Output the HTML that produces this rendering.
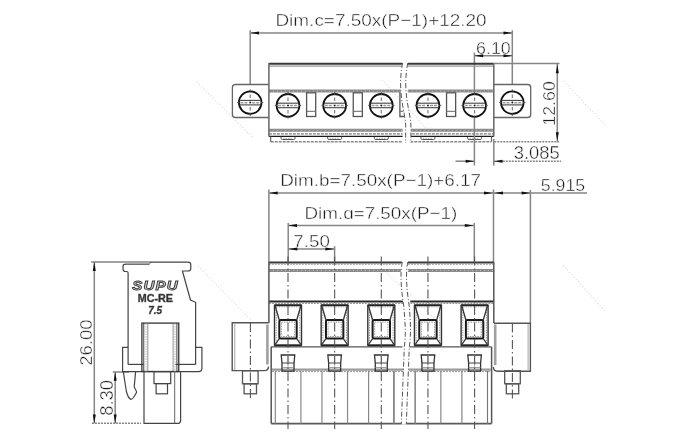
<!DOCTYPE html>
<html><head><meta charset="utf-8"><style>
html,body{margin:0;padding:0;background:#fff;}
svg{display:block;font-family:"Liberation Sans", sans-serif;will-change:transform;}
</style></head><body>
<svg width="680" height="440" viewBox="0 0 680 440">
<rect width="680" height="440" fill="#fff"/>
<line x1="197" y1="82" x2="253" y2="138" stroke="#dadada" stroke-width="1.3" stroke-dasharray="1 2.2"/>
<line x1="382" y1="80" x2="426" y2="128" stroke="#dadada" stroke-width="1.3" stroke-dasharray="1 2.2"/>
<line x1="563.6" y1="81" x2="605.5" y2="125.5" stroke="#dadada" stroke-width="1.3" stroke-dasharray="1 2.2"/>
<line x1="198" y1="266" x2="251" y2="320" stroke="#dadada" stroke-width="1.3" stroke-dasharray="1 2.2"/>
<line x1="387" y1="273" x2="434" y2="318" stroke="#dadada" stroke-width="1.3" stroke-dasharray="1 2.2"/>
<line x1="563" y1="265" x2="606" y2="312" stroke="#dadada" stroke-width="1.3" stroke-dasharray="1 2.2"/>
<text x="275.45" y="26.1" font-size="17.3" fill="#1a1a1a" textLength="211.19" lengthAdjust="spacingAndGlyphs" stroke="#fff" stroke-width="0.42">Dim.c=7.50x(P−1)+12.20</text>
<line x1="250.2" y1="32.9" x2="512.3" y2="32.9" stroke="#858585" stroke-width="1.5"/>
<polygon points="250.2,32.9 259.0,31.4 259.0,34.4" fill="#111"/>
<polygon points="512.3,32.9 503.5,31.4 503.5,34.4" fill="#111"/>
<line x1="250.2" y1="30.3" x2="250.2" y2="84.5" stroke="#858585" stroke-width="1.5"/>
<line x1="512.3" y1="30.3" x2="512.3" y2="84.5" stroke="#858585" stroke-width="1.5"/>
<text x="476.09" y="53.6" font-size="16.86" fill="#1a1a1a" textLength="34.71" lengthAdjust="spacingAndGlyphs" stroke="#fff" stroke-width="0.42">6.10</text>
<line x1="474.4" y1="55.8" x2="512.3" y2="55.8" stroke="#858585" stroke-width="1.5"/>
<polygon points="474.4,55.8 483.2,54.3 483.2,57.3" fill="#111"/>
<polygon points="512.3,55.8 503.5,54.3 503.5,57.3" fill="#111"/>
<line x1="474.4" y1="52.5" x2="474.4" y2="92" stroke="#858585" stroke-width="1.5"/>
<line x1="268.9" y1="63.8" x2="402.6" y2="63.8" stroke="#383838" stroke-width="2"/>
<line x1="268.9" y1="66.1" x2="402.6" y2="66.1" stroke="#9a9a9a" stroke-width="1.3"/>
<line x1="268.9" y1="91.1" x2="402.6" y2="91.1" stroke="#8a8a8a" stroke-width="3.0"/>
<line x1="268.9" y1="91.1" x2="402.6" y2="91.1" stroke="#c8c8c8" stroke-width="0.9" stroke-dasharray="1 3"/>
<line x1="268.9" y1="130.35" x2="402.6" y2="130.35" stroke="#8a8a8a" stroke-width="3.0"/>
<line x1="268.9" y1="130.35" x2="402.6" y2="130.35" stroke="#c8c8c8" stroke-width="0.9" stroke-dasharray="1 3"/>
<line x1="268.9" y1="133.9" x2="402.6" y2="133.9" stroke="#a0a0a0" stroke-width="1.8" stroke-dasharray="3 1"/>
<line x1="268.9" y1="136.4" x2="402.6" y2="136.4" stroke="#1a1a1a" stroke-width="1.4"/>
<line x1="407.8" y1="63.8" x2="493.8" y2="63.8" stroke="#383838" stroke-width="2"/>
<line x1="407.8" y1="66.1" x2="493.8" y2="66.1" stroke="#9a9a9a" stroke-width="1.3"/>
<line x1="407.8" y1="91.1" x2="493.8" y2="91.1" stroke="#8a8a8a" stroke-width="3.0"/>
<line x1="407.8" y1="91.1" x2="493.8" y2="91.1" stroke="#c8c8c8" stroke-width="0.9" stroke-dasharray="1 3"/>
<line x1="407.8" y1="130.35" x2="493.8" y2="130.35" stroke="#8a8a8a" stroke-width="3.0"/>
<line x1="407.8" y1="130.35" x2="493.8" y2="130.35" stroke="#c8c8c8" stroke-width="0.9" stroke-dasharray="1 3"/>
<line x1="407.8" y1="133.9" x2="493.8" y2="133.9" stroke="#a0a0a0" stroke-width="1.8" stroke-dasharray="3 1"/>
<line x1="407.8" y1="136.4" x2="493.8" y2="136.4" stroke="#1a1a1a" stroke-width="1.4"/>
<line x1="270.7" y1="141.7" x2="402.1" y2="141.7" stroke="#888" stroke-width="1.5" stroke-dasharray="3 1"/>
<line x1="410.3" y1="141.7" x2="491.5" y2="141.7" stroke="#888" stroke-width="1.5" stroke-dasharray="3 1"/>
<line x1="270.7" y1="136.4" x2="270.7" y2="141.7" stroke="#666" stroke-width="1.2"/>
<line x1="491.5" y1="136.4" x2="491.5" y2="141.7" stroke="#666" stroke-width="1.2"/>
<path d="M281.0,136.8 V138.2 Q281.0,139.5 282.5,139.5 H293.5 Q295.0,139.5 295.0,138.2 V136.8" stroke="#555" stroke-width="1" fill="none"/>
<line x1="283.0" y1="138.3" x2="293.0" y2="138.3" stroke="#9a9a9a" stroke-width="0.8" stroke-dasharray="1.5 1"/>
<path d="M327.65,136.8 V138.2 Q327.65,139.5 329.15,139.5 H340.15 Q341.65,139.5 341.65,138.2 V136.8" stroke="#555" stroke-width="1" fill="none"/>
<line x1="329.65" y1="138.3" x2="339.65" y2="138.3" stroke="#9a9a9a" stroke-width="0.8" stroke-dasharray="1.5 1"/>
<path d="M374.3,136.8 V138.2 Q374.3,139.5 375.8,139.5 H386.8 Q388.3,139.5 388.3,138.2 V136.8" stroke="#555" stroke-width="1" fill="none"/>
<line x1="376.3" y1="138.3" x2="386.3" y2="138.3" stroke="#9a9a9a" stroke-width="0.8" stroke-dasharray="1.5 1"/>
<path d="M420.95,136.8 V138.2 Q420.95,139.5 422.45,139.5 H433.45 Q434.95,139.5 434.95,138.2 V136.8" stroke="#555" stroke-width="1" fill="none"/>
<line x1="422.95" y1="138.3" x2="432.95" y2="138.3" stroke="#9a9a9a" stroke-width="0.8" stroke-dasharray="1.5 1"/>
<path d="M467.6,136.8 V138.2 Q467.6,139.5 469.1,139.5 H480.1 Q481.6,139.5 481.6,138.2 V136.8" stroke="#555" stroke-width="1" fill="none"/>
<line x1="469.6" y1="138.3" x2="479.6" y2="138.3" stroke="#9a9a9a" stroke-width="0.8" stroke-dasharray="1.5 1"/>
<line x1="268.9" y1="63" x2="268.9" y2="136.5" stroke="#666" stroke-width="1.5"/>
<line x1="493.8" y1="63" x2="493.8" y2="136.5" stroke="#666" stroke-width="1.5"/>
<path d="M268.9,84.5 H235.5 Q232.4,84.5 232.4,87.6 V114.4 Q232.4,117.5 235.5,117.5 H268.9" stroke="#666" stroke-width="1.3" fill="none"/>
<path d="M493.8,84.5 H527.6 Q530.7,84.5 530.7,87.6 V114.4 Q530.7,117.5 527.6,117.5 H493.8" stroke="#666" stroke-width="1.3" fill="none"/>
<circle cx="250.2" cy="102.6" r="11.3" stroke="#111" stroke-width="1.8" fill="none"/>
<line x1="239.5" y1="100.4" x2="260.9" y2="100.4" stroke="#444" stroke-width="1.1"/>
<line x1="239.5" y1="104.9" x2="260.9" y2="104.9" stroke="#444" stroke-width="1.1"/>
<line x1="240.4" y1="102.7" x2="248.2" y2="102.7" stroke="#9a9a9a" stroke-width="1.4" stroke-dasharray="3 1"/>
<line x1="252.2" y1="102.7" x2="260.0" y2="102.7" stroke="#9a9a9a" stroke-width="1.4" stroke-dasharray="3 1"/>
<line x1="250.2" y1="89.5" x2="250.2" y2="92.5" stroke="#444" stroke-width="1.1"/>
<line x1="250.2" y1="94.6" x2="250.2" y2="98.1" stroke="#777" stroke-width="1.1"/>
<line x1="250.2" y1="107.1" x2="250.2" y2="110.6" stroke="#777" stroke-width="1.1"/>
<line x1="250.2" y1="112.7" x2="250.2" y2="115.7" stroke="#444" stroke-width="1.1"/>
<line x1="237.1" y1="102.6" x2="239.4" y2="102.6" stroke="#555" stroke-width="1"/>
<line x1="261.0" y1="102.6" x2="263.3" y2="102.6" stroke="#555" stroke-width="1"/>
<circle cx="250.2" cy="102.6" r="1" fill="#222"/>
<circle cx="512.3" cy="102.6" r="11.3" stroke="#111" stroke-width="1.8" fill="none"/>
<line x1="501.6" y1="100.4" x2="523" y2="100.4" stroke="#444" stroke-width="1.1"/>
<line x1="501.6" y1="104.9" x2="523" y2="104.9" stroke="#444" stroke-width="1.1"/>
<line x1="502.5" y1="102.7" x2="510.3" y2="102.7" stroke="#9a9a9a" stroke-width="1.4" stroke-dasharray="3 1"/>
<line x1="514.3" y1="102.7" x2="522.1" y2="102.7" stroke="#9a9a9a" stroke-width="1.4" stroke-dasharray="3 1"/>
<line x1="512.3" y1="89.5" x2="512.3" y2="92.5" stroke="#444" stroke-width="1.1"/>
<line x1="512.3" y1="94.6" x2="512.3" y2="98.1" stroke="#777" stroke-width="1.1"/>
<line x1="512.3" y1="107.1" x2="512.3" y2="110.6" stroke="#777" stroke-width="1.1"/>
<line x1="512.3" y1="112.7" x2="512.3" y2="115.7" stroke="#444" stroke-width="1.1"/>
<line x1="499.2" y1="102.6" x2="501.5" y2="102.6" stroke="#555" stroke-width="1"/>
<line x1="523.1" y1="102.6" x2="525.4" y2="102.6" stroke="#555" stroke-width="1"/>
<circle cx="512.3" cy="102.6" r="1" fill="#222"/>
<circle cx="288.0" cy="105.4" r="11.4" stroke="#111" stroke-width="1.8" fill="none"/>
<line x1="277.2" y1="103.2" x2="298.8" y2="103.2" stroke="#444" stroke-width="1.1"/>
<line x1="277.2" y1="107.7" x2="298.8" y2="107.7" stroke="#444" stroke-width="1.1"/>
<line x1="278.1" y1="105.5" x2="286.0" y2="105.5" stroke="#9a9a9a" stroke-width="1.4" stroke-dasharray="3 1"/>
<line x1="290.0" y1="105.5" x2="297.9" y2="105.5" stroke="#9a9a9a" stroke-width="1.4" stroke-dasharray="3 1"/>
<line x1="288.0" y1="92.2" x2="288.0" y2="95.2" stroke="#444" stroke-width="1.1"/>
<line x1="288.0" y1="97.4" x2="288.0" y2="100.9" stroke="#777" stroke-width="1.1"/>
<line x1="288.0" y1="109.9" x2="288.0" y2="113.4" stroke="#777" stroke-width="1.1"/>
<line x1="288.0" y1="115.6" x2="288.0" y2="118.6" stroke="#444" stroke-width="1.1"/>
<line x1="274.8" y1="105.4" x2="277.1" y2="105.4" stroke="#555" stroke-width="1"/>
<line x1="298.9" y1="105.4" x2="301.2" y2="105.4" stroke="#555" stroke-width="1"/>
<circle cx="288.0" cy="105.4" r="1" fill="#222"/>
<circle cx="334.65" cy="105.4" r="11.4" stroke="#111" stroke-width="1.8" fill="none"/>
<line x1="323.85" y1="103.2" x2="345.45" y2="103.2" stroke="#444" stroke-width="1.1"/>
<line x1="323.85" y1="107.7" x2="345.45" y2="107.7" stroke="#444" stroke-width="1.1"/>
<line x1="324.75" y1="105.5" x2="332.65" y2="105.5" stroke="#9a9a9a" stroke-width="1.4" stroke-dasharray="3 1"/>
<line x1="336.65" y1="105.5" x2="344.55" y2="105.5" stroke="#9a9a9a" stroke-width="1.4" stroke-dasharray="3 1"/>
<line x1="334.65" y1="92.2" x2="334.65" y2="95.2" stroke="#444" stroke-width="1.1"/>
<line x1="334.65" y1="97.4" x2="334.65" y2="100.9" stroke="#777" stroke-width="1.1"/>
<line x1="334.65" y1="109.9" x2="334.65" y2="113.4" stroke="#777" stroke-width="1.1"/>
<line x1="334.65" y1="115.6" x2="334.65" y2="118.6" stroke="#444" stroke-width="1.1"/>
<line x1="321.45" y1="105.4" x2="323.75" y2="105.4" stroke="#555" stroke-width="1"/>
<line x1="345.55" y1="105.4" x2="347.85" y2="105.4" stroke="#555" stroke-width="1"/>
<circle cx="334.65" cy="105.4" r="1" fill="#222"/>
<circle cx="381.3" cy="105.4" r="11.4" stroke="#111" stroke-width="1.8" fill="none"/>
<line x1="370.5" y1="103.2" x2="392.1" y2="103.2" stroke="#444" stroke-width="1.1"/>
<line x1="370.5" y1="107.7" x2="392.1" y2="107.7" stroke="#444" stroke-width="1.1"/>
<line x1="371.4" y1="105.5" x2="379.3" y2="105.5" stroke="#9a9a9a" stroke-width="1.4" stroke-dasharray="3 1"/>
<line x1="383.3" y1="105.5" x2="391.2" y2="105.5" stroke="#9a9a9a" stroke-width="1.4" stroke-dasharray="3 1"/>
<line x1="381.3" y1="92.2" x2="381.3" y2="95.2" stroke="#444" stroke-width="1.1"/>
<line x1="381.3" y1="97.4" x2="381.3" y2="100.9" stroke="#777" stroke-width="1.1"/>
<line x1="381.3" y1="109.9" x2="381.3" y2="113.4" stroke="#777" stroke-width="1.1"/>
<line x1="381.3" y1="115.6" x2="381.3" y2="118.6" stroke="#444" stroke-width="1.1"/>
<line x1="368.1" y1="105.4" x2="370.4" y2="105.4" stroke="#555" stroke-width="1"/>
<line x1="392.2" y1="105.4" x2="394.5" y2="105.4" stroke="#555" stroke-width="1"/>
<circle cx="381.3" cy="105.4" r="1" fill="#222"/>
<circle cx="427.95" cy="105.4" r="11.4" stroke="#111" stroke-width="1.8" fill="none"/>
<line x1="417.15" y1="103.2" x2="438.75" y2="103.2" stroke="#444" stroke-width="1.1"/>
<line x1="417.15" y1="107.7" x2="438.75" y2="107.7" stroke="#444" stroke-width="1.1"/>
<line x1="418.05" y1="105.5" x2="425.95" y2="105.5" stroke="#9a9a9a" stroke-width="1.4" stroke-dasharray="3 1"/>
<line x1="429.95" y1="105.5" x2="437.85" y2="105.5" stroke="#9a9a9a" stroke-width="1.4" stroke-dasharray="3 1"/>
<line x1="427.95" y1="92.2" x2="427.95" y2="95.2" stroke="#444" stroke-width="1.1"/>
<line x1="427.95" y1="97.4" x2="427.95" y2="100.9" stroke="#777" stroke-width="1.1"/>
<line x1="427.95" y1="109.9" x2="427.95" y2="113.4" stroke="#777" stroke-width="1.1"/>
<line x1="427.95" y1="115.6" x2="427.95" y2="118.6" stroke="#444" stroke-width="1.1"/>
<line x1="414.75" y1="105.4" x2="417.05" y2="105.4" stroke="#555" stroke-width="1"/>
<line x1="438.85" y1="105.4" x2="441.15" y2="105.4" stroke="#555" stroke-width="1"/>
<circle cx="427.95" cy="105.4" r="1" fill="#222"/>
<circle cx="474.6" cy="105.4" r="11.4" stroke="#111" stroke-width="1.8" fill="none"/>
<line x1="463.8" y1="103.2" x2="485.4" y2="103.2" stroke="#444" stroke-width="1.1"/>
<line x1="463.8" y1="107.7" x2="485.4" y2="107.7" stroke="#444" stroke-width="1.1"/>
<line x1="464.7" y1="105.5" x2="472.6" y2="105.5" stroke="#9a9a9a" stroke-width="1.4" stroke-dasharray="3 1"/>
<line x1="476.6" y1="105.5" x2="484.5" y2="105.5" stroke="#9a9a9a" stroke-width="1.4" stroke-dasharray="3 1"/>
<line x1="474.6" y1="92.2" x2="474.6" y2="95.2" stroke="#444" stroke-width="1.1"/>
<line x1="474.6" y1="97.4" x2="474.6" y2="100.9" stroke="#777" stroke-width="1.1"/>
<line x1="474.6" y1="109.9" x2="474.6" y2="113.4" stroke="#777" stroke-width="1.1"/>
<line x1="474.6" y1="115.6" x2="474.6" y2="118.6" stroke="#444" stroke-width="1.1"/>
<line x1="461.4" y1="105.4" x2="463.7" y2="105.4" stroke="#555" stroke-width="1"/>
<line x1="485.5" y1="105.4" x2="487.8" y2="105.4" stroke="#555" stroke-width="1"/>
<circle cx="474.6" cy="105.4" r="1" fill="#222"/>
<rect x="306.6" y="92.8" width="9.1" height="23.7" stroke="#555" stroke-width="1.3" fill="none"/>
<line x1="306.6" y1="111.3" x2="315.7" y2="111.3" stroke="#666" stroke-width="1"/>
<rect x="353.25" y="92.8" width="9.1" height="23.7" stroke="#555" stroke-width="1.3" fill="none"/>
<line x1="353.25" y1="111.3" x2="362.35" y2="111.3" stroke="#666" stroke-width="1"/>
<rect x="446.55" y="92.8" width="9.1" height="23.7" stroke="#555" stroke-width="1.3" fill="none"/>
<line x1="446.55" y1="111.3" x2="455.65" y2="111.3" stroke="#666" stroke-width="1"/>
<path d="M405,92.8 H399.9 V116.5 H405" stroke="#555" stroke-width="1.3" fill="none"/>
<line x1="399.9" y1="111.3" x2="405" y2="111.3" stroke="#666" stroke-width="1"/>
<path d="M402.3,62 C400,75 400,86 401,95 C402,106 405,116 405.5,125 V143.5 L411,143.5 V125 C410.5,116 407.2,106 406.2,95 C405.2,86 405.2,75 408,62 Z" fill="#fff"/>
<path d="M402.6,63 C400.2,75 400.2,86 401.2,95 C402.2,106 405.2,116 405.7,125 V143" stroke="#555" stroke-width="1" fill="none" stroke-dasharray="5 2 1 2"/>
<path d="M407.8,63 C405.4,75 405.4,86 406.4,95 C407.4,106 410.4,116 410.9,125 V143" stroke="#555" stroke-width="1" fill="none" stroke-dasharray="5 2 1 2"/>
<line x1="493.8" y1="63.6" x2="559.5" y2="63.6" stroke="#858585" stroke-width="1.5"/>
<line x1="494.3" y1="141.7" x2="559" y2="141.7" stroke="#858585" stroke-width="1.5" stroke-dasharray="2 1"/>
<line x1="557.3" y1="63.6" x2="557.3" y2="141.7" stroke="#858585" stroke-width="1.5"/>
<polygon points="557.3,64.5 555.8,73.3 558.8,73.3" fill="#111"/>
<polygon points="557.3,141 555.8,132.2 558.8,132.2" fill="#111"/>
<text x="553.4" y="124.4" font-size="16.93" fill="#1a1a1a" textLength="44.56" lengthAdjust="spacingAndGlyphs" transform="rotate(-90 554.75 124.4)" stroke="#fff" stroke-width="0.42">12.60</text>
<line x1="474.4" y1="118" x2="474.4" y2="165.5" stroke="#858585" stroke-width="1.5"/>
<line x1="493.8" y1="139" x2="493.8" y2="165.5" stroke="#858585" stroke-width="1.5"/>
<line x1="455.5" y1="161.2" x2="474.4" y2="161.2" stroke="#858585" stroke-width="1.5"/>
<polygon points="474.4,161.2 465.6,159.7 465.6,162.7" fill="#111"/>
<line x1="493.8" y1="161.2" x2="561" y2="161.2" stroke="#858585" stroke-width="1.5" stroke-dasharray="2 1"/>
<polygon points="493.8,161.2 502.6,159.7 502.6,162.7" fill="#111"/>
<text x="513.8" y="159.2" font-size="17.59" fill="#1a1a1a" textLength="45.98" lengthAdjust="spacingAndGlyphs" stroke="#fff" stroke-width="0.42">3.085</text>
<text x="280.25" y="186.4" font-size="17.15" fill="#1a1a1a" textLength="200.69" lengthAdjust="spacingAndGlyphs" stroke="#fff" stroke-width="0.42">Dim.b=7.50x(P−1)+6.17</text>
<line x1="268.9" y1="192.9" x2="493.5" y2="192.9" stroke="#858585" stroke-width="1.5"/>
<polygon points="268.9,192.9 277.7,191.4 277.7,194.4" fill="#111"/>
<polygon points="492.8,192.9 484.0,191.4 484.0,194.4" fill="#111"/>
<line x1="268.9" y1="189.5" x2="268.9" y2="262" stroke="#858585" stroke-width="1.5"/>
<line x1="493.5" y1="189.5" x2="493.5" y2="262" stroke="#858585" stroke-width="1.5"/>
<line x1="493.5" y1="192.9" x2="587" y2="192.9" stroke="#858585" stroke-width="1.5"/>
<polygon points="494.2,192.9 503.0,191.4 503.0,194.4" fill="#111"/>
<polygon points="530.4,192.9 521.6,191.4 521.6,194.4" fill="#111"/>
<line x1="530.4" y1="190" x2="530.4" y2="323" stroke="#858585" stroke-width="1.5"/>
<text x="540.89" y="191.0" font-size="17.3" fill="#1a1a1a" textLength="44.26" lengthAdjust="spacingAndGlyphs" stroke="#fff" stroke-width="0.42">5.915</text>
<text x="304.45" y="218.5" font-size="17.01" fill="#1a1a1a" textLength="152.91" lengthAdjust="spacingAndGlyphs" stroke="#fff" stroke-width="0.42">Dim.ɑ=7.50x(P−1)</text>
<line x1="288.2" y1="225.4" x2="474.3" y2="225.4" stroke="#858585" stroke-width="1.5"/>
<polygon points="288.2,225.4 297.0,223.9 297.0,226.9" fill="#111"/>
<polygon points="473.6,225.4 464.8,223.9 464.8,226.9" fill="#111"/>
<line x1="288.2" y1="223" x2="288.2" y2="262" stroke="#858585" stroke-width="1.5"/>
<line x1="474.3" y1="223" x2="474.3" y2="262" stroke="#858585" stroke-width="1.5"/>
<text x="293.34" y="246.6" font-size="16.86" fill="#1a1a1a" textLength="36.49" lengthAdjust="spacingAndGlyphs" stroke="#fff" stroke-width="0.42">7.50</text>
<line x1="288.2" y1="249" x2="334.6" y2="249" stroke="#858585" stroke-width="1.5"/>
<polygon points="288.6,249 297.4,247.5 297.4,250.5" fill="#111"/>
<polygon points="334.2,249 325.4,247.5 325.4,250.5" fill="#111"/>
<line x1="334.6" y1="246.2" x2="334.6" y2="262" stroke="#858585" stroke-width="1.5"/>
<line x1="268.9" y1="262.4" x2="402.6" y2="262.4" stroke="#3a3a3a" stroke-width="2"/>
<line x1="268.9" y1="264.2" x2="402.6" y2="264.2" stroke="#9a9a9a" stroke-width="1.1" stroke-dasharray="2 1"/>
<line x1="268.9" y1="270.5" x2="402.6" y2="270.5" stroke="#8a8a8a" stroke-width="3.0"/>
<line x1="268.9" y1="270.5" x2="402.6" y2="270.5" stroke="#c8c8c8" stroke-width="0.9" stroke-dasharray="1 3"/>
<line x1="407.9" y1="262.4" x2="493.8" y2="262.4" stroke="#3a3a3a" stroke-width="2"/>
<line x1="407.9" y1="264.2" x2="493.8" y2="264.2" stroke="#9a9a9a" stroke-width="1.1" stroke-dasharray="2 1"/>
<line x1="407.9" y1="270.5" x2="493.8" y2="270.5" stroke="#8a8a8a" stroke-width="3.0"/>
<line x1="407.9" y1="270.5" x2="493.8" y2="270.5" stroke="#c8c8c8" stroke-width="0.9" stroke-dasharray="1 3"/>
<line x1="268.9" y1="301.4" x2="404" y2="301.4" stroke="#2a2a2a" stroke-width="2"/>
<line x1="268.9" y1="303.4" x2="404" y2="303.4" stroke="#9a9a9a" stroke-width="1.1" stroke-dasharray="2 1"/>
<line x1="410.3" y1="301.4" x2="493.8" y2="301.4" stroke="#2a2a2a" stroke-width="2"/>
<line x1="410.3" y1="303.4" x2="493.8" y2="303.4" stroke="#9a9a9a" stroke-width="1.1" stroke-dasharray="2 1"/>
<line x1="268.9" y1="262" x2="268.9" y2="323" stroke="#555" stroke-width="1.5"/>
<line x1="493.8" y1="262" x2="493.8" y2="323" stroke="#555" stroke-width="1.5"/>
<line x1="274.2" y1="305.2" x2="301.8" y2="305.2" stroke="#222" stroke-width="2"/>
<line x1="274.2" y1="345.4" x2="301.8" y2="345.4" stroke="#222" stroke-width="2.2"/>
<line x1="274.5" y1="305" x2="274.5" y2="345.5" stroke="#333" stroke-width="1.4"/>
<line x1="301.5" y1="305" x2="301.5" y2="345.5" stroke="#333" stroke-width="1.4"/>
<line x1="276.2" y1="307" x2="276.2" y2="344" stroke="#9a9a9a" stroke-width="1" stroke-dasharray="1.5 1"/>
<line x1="299.8" y1="307" x2="299.8" y2="344" stroke="#9a9a9a" stroke-width="1" stroke-dasharray="1.5 1"/>
<line x1="276.2" y1="306.8" x2="299.8" y2="306.8" stroke="#9a9a9a" stroke-width="1" stroke-dasharray="1.5 1"/>
<rect x="279.3" y="320" width="17.4" height="18.6" stroke="#1a1a1a" stroke-width="2" fill="none" rx="1.5"/>
<rect x="281.4" y="322.1" width="13.2" height="14.4" stroke="#888" stroke-width="0.9" fill="none" stroke-dasharray="1.5 1"/>
<line x1="275.2" y1="306" x2="279.3" y2="320" stroke="#333" stroke-width="1.3"/>
<line x1="300.8" y1="306" x2="296.7" y2="320" stroke="#333" stroke-width="1.3"/>
<line x1="279.3" y1="338.6" x2="275.2" y2="344.5" stroke="#333" stroke-width="1.3"/>
<line x1="296.7" y1="338.6" x2="300.8" y2="344.5" stroke="#333" stroke-width="1.3"/>
<line x1="320.85" y1="305.2" x2="348.45" y2="305.2" stroke="#222" stroke-width="2"/>
<line x1="320.85" y1="345.4" x2="348.45" y2="345.4" stroke="#222" stroke-width="2.2"/>
<line x1="321.15" y1="305" x2="321.15" y2="345.5" stroke="#333" stroke-width="1.4"/>
<line x1="348.15" y1="305" x2="348.15" y2="345.5" stroke="#333" stroke-width="1.4"/>
<line x1="322.85" y1="307" x2="322.85" y2="344" stroke="#9a9a9a" stroke-width="1" stroke-dasharray="1.5 1"/>
<line x1="346.45" y1="307" x2="346.45" y2="344" stroke="#9a9a9a" stroke-width="1" stroke-dasharray="1.5 1"/>
<line x1="322.85" y1="306.8" x2="346.45" y2="306.8" stroke="#9a9a9a" stroke-width="1" stroke-dasharray="1.5 1"/>
<rect x="325.95" y="320" width="17.4" height="18.6" stroke="#1a1a1a" stroke-width="2" fill="none" rx="1.5"/>
<rect x="328.05" y="322.1" width="13.2" height="14.4" stroke="#888" stroke-width="0.9" fill="none" stroke-dasharray="1.5 1"/>
<line x1="321.85" y1="306" x2="325.95" y2="320" stroke="#333" stroke-width="1.3"/>
<line x1="347.45" y1="306" x2="343.35" y2="320" stroke="#333" stroke-width="1.3"/>
<line x1="325.95" y1="338.6" x2="321.85" y2="344.5" stroke="#333" stroke-width="1.3"/>
<line x1="343.35" y1="338.6" x2="347.45" y2="344.5" stroke="#333" stroke-width="1.3"/>
<line x1="367.5" y1="305.2" x2="395.1" y2="305.2" stroke="#222" stroke-width="2"/>
<line x1="367.5" y1="345.4" x2="395.1" y2="345.4" stroke="#222" stroke-width="2.2"/>
<line x1="367.8" y1="305" x2="367.8" y2="345.5" stroke="#333" stroke-width="1.4"/>
<line x1="394.8" y1="305" x2="394.8" y2="345.5" stroke="#333" stroke-width="1.4"/>
<line x1="369.5" y1="307" x2="369.5" y2="344" stroke="#9a9a9a" stroke-width="1" stroke-dasharray="1.5 1"/>
<line x1="393.1" y1="307" x2="393.1" y2="344" stroke="#9a9a9a" stroke-width="1" stroke-dasharray="1.5 1"/>
<line x1="369.5" y1="306.8" x2="393.1" y2="306.8" stroke="#9a9a9a" stroke-width="1" stroke-dasharray="1.5 1"/>
<rect x="372.6" y="320" width="17.4" height="18.6" stroke="#1a1a1a" stroke-width="2" fill="none" rx="1.5"/>
<rect x="374.7" y="322.1" width="13.2" height="14.4" stroke="#888" stroke-width="0.9" fill="none" stroke-dasharray="1.5 1"/>
<line x1="368.5" y1="306" x2="372.6" y2="320" stroke="#333" stroke-width="1.3"/>
<line x1="394.1" y1="306" x2="390.0" y2="320" stroke="#333" stroke-width="1.3"/>
<line x1="372.6" y1="338.6" x2="368.5" y2="344.5" stroke="#333" stroke-width="1.3"/>
<line x1="390.0" y1="338.6" x2="394.1" y2="344.5" stroke="#333" stroke-width="1.3"/>
<line x1="414.15" y1="305.2" x2="441.75" y2="305.2" stroke="#222" stroke-width="2"/>
<line x1="414.15" y1="345.4" x2="441.75" y2="345.4" stroke="#222" stroke-width="2.2"/>
<line x1="414.45" y1="305" x2="414.45" y2="345.5" stroke="#333" stroke-width="1.4"/>
<line x1="441.45" y1="305" x2="441.45" y2="345.5" stroke="#333" stroke-width="1.4"/>
<line x1="416.15" y1="307" x2="416.15" y2="344" stroke="#9a9a9a" stroke-width="1" stroke-dasharray="1.5 1"/>
<line x1="439.75" y1="307" x2="439.75" y2="344" stroke="#9a9a9a" stroke-width="1" stroke-dasharray="1.5 1"/>
<line x1="416.15" y1="306.8" x2="439.75" y2="306.8" stroke="#9a9a9a" stroke-width="1" stroke-dasharray="1.5 1"/>
<rect x="419.25" y="320" width="17.4" height="18.6" stroke="#1a1a1a" stroke-width="2" fill="none" rx="1.5"/>
<rect x="421.35" y="322.1" width="13.2" height="14.4" stroke="#888" stroke-width="0.9" fill="none" stroke-dasharray="1.5 1"/>
<line x1="415.15" y1="306" x2="419.25" y2="320" stroke="#333" stroke-width="1.3"/>
<line x1="440.75" y1="306" x2="436.65" y2="320" stroke="#333" stroke-width="1.3"/>
<line x1="419.25" y1="338.6" x2="415.15" y2="344.5" stroke="#333" stroke-width="1.3"/>
<line x1="436.65" y1="338.6" x2="440.75" y2="344.5" stroke="#333" stroke-width="1.3"/>
<line x1="460.8" y1="305.2" x2="488.4" y2="305.2" stroke="#222" stroke-width="2"/>
<line x1="460.8" y1="345.4" x2="488.4" y2="345.4" stroke="#222" stroke-width="2.2"/>
<line x1="461.1" y1="305" x2="461.1" y2="345.5" stroke="#333" stroke-width="1.4"/>
<line x1="488.1" y1="305" x2="488.1" y2="345.5" stroke="#333" stroke-width="1.4"/>
<line x1="462.8" y1="307" x2="462.8" y2="344" stroke="#9a9a9a" stroke-width="1" stroke-dasharray="1.5 1"/>
<line x1="486.4" y1="307" x2="486.4" y2="344" stroke="#9a9a9a" stroke-width="1" stroke-dasharray="1.5 1"/>
<line x1="462.8" y1="306.8" x2="486.4" y2="306.8" stroke="#9a9a9a" stroke-width="1" stroke-dasharray="1.5 1"/>
<rect x="465.9" y="320" width="17.4" height="18.6" stroke="#1a1a1a" stroke-width="2" fill="none" rx="1.5"/>
<rect x="468.0" y="322.1" width="13.2" height="14.4" stroke="#888" stroke-width="0.9" fill="none" stroke-dasharray="1.5 1"/>
<line x1="461.8" y1="306" x2="465.9" y2="320" stroke="#333" stroke-width="1.3"/>
<line x1="487.4" y1="306" x2="483.3" y2="320" stroke="#333" stroke-width="1.3"/>
<line x1="465.9" y1="338.6" x2="461.8" y2="344.5" stroke="#333" stroke-width="1.3"/>
<line x1="483.3" y1="338.6" x2="487.4" y2="344.5" stroke="#333" stroke-width="1.3"/>
<line x1="271.2" y1="346.8" x2="402.5" y2="346.8" stroke="#555" stroke-width="1.3"/>
<line x1="409" y1="346.8" x2="491.5" y2="346.8" stroke="#555" stroke-width="1.3"/>
<line x1="271.2" y1="346.8" x2="271.2" y2="423.6" stroke="#555" stroke-width="1.5"/>
<line x1="491.6" y1="346.8" x2="491.6" y2="423.6" stroke="#555" stroke-width="1.5"/>
<line x1="271.2" y1="423.6" x2="491.6" y2="423.6" stroke="#5a5a5a" stroke-width="1.8"/>
<line x1="272" y1="369.6" x2="490.8" y2="369.6" stroke="#999" stroke-width="2.2"/>
<line x1="272" y1="371.6" x2="490.8" y2="371.6" stroke="#9a9a9a" stroke-width="1" stroke-dasharray="2 1"/>
<line x1="275.3" y1="371" x2="275.3" y2="423.6" stroke="#888" stroke-width="1.2"/>
<line x1="300.9" y1="371" x2="300.9" y2="423.6" stroke="#888" stroke-width="1.2"/>
<line x1="321.95" y1="371" x2="321.95" y2="423.6" stroke="#888" stroke-width="1.2"/>
<line x1="347.55" y1="371" x2="347.55" y2="423.6" stroke="#888" stroke-width="1.2"/>
<line x1="368.6" y1="371" x2="368.6" y2="423.6" stroke="#888" stroke-width="1.2"/>
<line x1="394.2" y1="371" x2="394.2" y2="423.6" stroke="#888" stroke-width="1.2"/>
<line x1="415.25" y1="371" x2="415.25" y2="423.6" stroke="#888" stroke-width="1.2"/>
<line x1="440.85" y1="371" x2="440.85" y2="423.6" stroke="#888" stroke-width="1.2"/>
<line x1="461.9" y1="371" x2="461.9" y2="423.6" stroke="#888" stroke-width="1.2"/>
<line x1="487.5" y1="371" x2="487.5" y2="423.6" stroke="#888" stroke-width="1.2"/>
<line x1="487.5" y1="371" x2="487.5" y2="423.6" stroke="#777" stroke-width="1"/>
<path d="M281.2,355 H294.8 L294.0,363 V371.2 H282.0 V363 Z" stroke="#333" stroke-width="1.3" fill="none"/>
<line x1="281.5" y1="363" x2="294.5" y2="363" stroke="#444" stroke-width="1"/>
<line x1="282.0" y1="367.5" x2="294.0" y2="367.5" stroke="#888" stroke-width="0.8"/>
<line x1="288.0" y1="355" x2="288.0" y2="371" stroke="#9a9a9a" stroke-width="0.7"/>
<path d="M327.85,355 H341.45 L340.65,363 V371.2 H328.65 V363 Z" stroke="#333" stroke-width="1.3" fill="none"/>
<line x1="328.15" y1="363" x2="341.15" y2="363" stroke="#444" stroke-width="1"/>
<line x1="328.65" y1="367.5" x2="340.65" y2="367.5" stroke="#888" stroke-width="0.8"/>
<line x1="334.65" y1="355" x2="334.65" y2="371" stroke="#9a9a9a" stroke-width="0.7"/>
<path d="M374.5,355 H388.1 L387.3,363 V371.2 H375.3 V363 Z" stroke="#333" stroke-width="1.3" fill="none"/>
<line x1="374.8" y1="363" x2="387.8" y2="363" stroke="#444" stroke-width="1"/>
<line x1="375.3" y1="367.5" x2="387.3" y2="367.5" stroke="#888" stroke-width="0.8"/>
<line x1="381.3" y1="355" x2="381.3" y2="371" stroke="#9a9a9a" stroke-width="0.7"/>
<path d="M421.15,355 H434.75 L433.95,363 V371.2 H421.95 V363 Z" stroke="#333" stroke-width="1.3" fill="none"/>
<line x1="421.45" y1="363" x2="434.45" y2="363" stroke="#444" stroke-width="1"/>
<line x1="421.95" y1="367.5" x2="433.95" y2="367.5" stroke="#888" stroke-width="0.8"/>
<line x1="427.95" y1="355" x2="427.95" y2="371" stroke="#9a9a9a" stroke-width="0.7"/>
<path d="M467.8,355 H481.4 L480.6,363 V371.2 H468.6 V363 Z" stroke="#333" stroke-width="1.3" fill="none"/>
<line x1="468.1" y1="363" x2="481.1" y2="363" stroke="#444" stroke-width="1"/>
<line x1="468.6" y1="367.5" x2="480.6" y2="367.5" stroke="#888" stroke-width="0.8"/>
<line x1="474.6" y1="355" x2="474.6" y2="371" stroke="#9a9a9a" stroke-width="0.7"/>
<line x1="288.0" y1="256.5" x2="288.0" y2="429" stroke="#555" stroke-width="1.1" stroke-dasharray="9 3 1.5 3"/>
<line x1="334.65" y1="256.5" x2="334.65" y2="429" stroke="#555" stroke-width="1.1" stroke-dasharray="9 3 1.5 3"/>
<line x1="381.3" y1="256.5" x2="381.3" y2="429" stroke="#555" stroke-width="1.1" stroke-dasharray="9 3 1.5 3"/>
<line x1="427.95" y1="256.5" x2="427.95" y2="429" stroke="#555" stroke-width="1.1" stroke-dasharray="9 3 1.5 3"/>
<line x1="474.6" y1="256.5" x2="474.6" y2="429" stroke="#555" stroke-width="1.1" stroke-dasharray="9 3 1.5 3"/>
<path d="M268.9,322.8 H232.2 V370.6 H264.5 Q268.5,370.6 268.5,366.5" stroke="#555" stroke-width="1.4" fill="none"/>
<line x1="234.8" y1="323.5" x2="234.8" y2="370" stroke="#9a9a9a" stroke-width="0.9"/>
<line x1="267.4" y1="324.5" x2="267.4" y2="364.5" stroke="#a0a0a0" stroke-width="2.6"/>
<path d="M493.8,323.2 H530.4 V371.2 H497.5 Q493.4,371.2 493.4,367" stroke="#555" stroke-width="1.4" fill="none"/>
<line x1="528.1" y1="324" x2="528.1" y2="370.5" stroke="#9a9a9a" stroke-width="0.9"/>
<line x1="495.2" y1="324.5" x2="495.2" y2="365" stroke="#a0a0a0" stroke-width="2.6"/>
<line x1="250.4" y1="323" x2="250.4" y2="399" stroke="#555" stroke-width="1.1" stroke-dasharray="9 3 1.5 3"/>
<line x1="512.4" y1="323.5" x2="512.4" y2="399" stroke="#555" stroke-width="1.1" stroke-dasharray="9 3 1.5 3"/>
<rect x="242.5" y="370.8" width="15.6" height="13" stroke="#555" stroke-width="1.3" fill="none"/>
<rect x="244.1" y="383.8" width="12.4" height="10" stroke="#555" stroke-width="1.3" fill="none"/>
<rect x="504.7" y="370.8" width="15.6" height="13" stroke="#555" stroke-width="1.3" fill="none"/>
<rect x="506.3" y="383.8" width="12.4" height="10" stroke="#555" stroke-width="1.3" fill="none"/>
<path d="M402,261 C399.5,272 401,290 403.5,305 C405,320 406,335 404.5,347 L401.2,424.5 L406.5,424.5 L409.5,347 C411,335 410.5,320 409,305 C406.5,290 405,272 408,261 Z" fill="#fff"/>
<path d="M402.4,262 C399.8,272 401.2,290 403.6,305 C405,320 406.2,335 404.3,347 L401.3,424" stroke="#555" stroke-width="1" fill="none" stroke-dasharray="5 2 1 2"/>
<path d="M407.9,262 C405.3,272 406.7,290 409.1,305 C410.5,320 411.2,335 409.3,347 L406.3,424" stroke="#555" stroke-width="1" fill="none" stroke-dasharray="5 2 1 2"/>
<line x1="393.6" y1="371" x2="393.6" y2="423.6" stroke="#888" stroke-width="1.2"/>
<line x1="415.2" y1="371" x2="415.2" y2="423.6" stroke="#888" stroke-width="1.2"/>
<line x1="91.2" y1="262.1" x2="150" y2="262.1" stroke="#858585" stroke-width="1.5"/>
<line x1="94.3" y1="262.1" x2="94.3" y2="423.3" stroke="#858585" stroke-width="1.5"/>
<polygon points="94.3,262.1 92.8,270.9 95.8,270.9" fill="#111"/>
<polygon points="94.3,423.3 92.8,414.5 95.8,414.5" fill="#111"/>
<line x1="92" y1="423.3" x2="141" y2="423.3" stroke="#858585" stroke-width="1.5" stroke-dasharray="2 1"/>
<text x="91.28" y="364.8" font-size="17.3" fill="#1a1a1a" textLength="46.25" lengthAdjust="spacingAndGlyphs" transform="rotate(-90 92.2 364.8)" stroke="#fff" stroke-width="0.42">26.00</text>
<line x1="112.8" y1="372" x2="129" y2="372" stroke="#858585" stroke-width="1.5"/>
<line x1="115.2" y1="372" x2="115.2" y2="423.3" stroke="#858585" stroke-width="1.5"/>
<polygon points="115.2,372 113.7,380.8 116.7,380.8" fill="#111"/>
<polygon points="115.2,423.3 113.7,414.5 116.7,414.5" fill="#111"/>
<text x="111.91" y="415" font-size="17.44" fill="#1a1a1a" textLength="35.92" lengthAdjust="spacingAndGlyphs" transform="rotate(-90 112.7 415)" stroke="#fff" stroke-width="0.42">8.30</text>
<path d="M128.1,364.4 V273 Q128.1,271.5 126.5,271.5 H125.5 Q123,271.5 123,269 V266.5 Q123,264.2 125.5,264.2 H149 L150.5,262.2 H188 Q190.8,262.2 190.8,265 V268.5 Q190.8,271 188,271 H182.4 L190.5,300 L195.6,302.3 V364.4" stroke="#444" stroke-width="1.2" fill="none"/>
<line x1="125" y1="263.2" x2="150" y2="263.2" stroke="#aaa" stroke-width="1.4"/>
<path d="M128.1,364.4 H143.7" stroke="#444" stroke-width="1.2" fill="none"/>
<path d="M175,364.4 H195.6" stroke="#444" stroke-width="1.2" fill="none"/>
<path d="M128.1,347.3 H122.6 V371.6 H198.5 Q201.9,371.6 201.9,368.5 V347.3 H195.6" stroke="#444" stroke-width="1.2" fill="none"/>
<rect x="141.9" y="323.1" width="36.85" height="48.4" stroke="#333" stroke-width="1.3" fill="none"/>
<line x1="143.75" y1="323.1" x2="143.75" y2="371.5" stroke="#444" stroke-width="1"/>
<line x1="146.0" y1="323.5" x2="146.0" y2="371.5" stroke="#bbb" stroke-width="1.0" stroke-dasharray="1.5 1"/>
<line x1="147.8" y1="323.1" x2="147.8" y2="371.5" stroke="#777" stroke-width="0.8"/>
<line x1="173.1" y1="323.1" x2="173.1" y2="371.5" stroke="#777" stroke-width="0.8"/>
<line x1="175.0" y1="323.5" x2="175.0" y2="371.5" stroke="#bbb" stroke-width="1.0" stroke-dasharray="1.5 1"/>
<line x1="176.9" y1="323.1" x2="176.9" y2="371.5" stroke="#444" stroke-width="1"/>
<path d="M144,371.6 V423.4 H179 L180.6,421.5 V371.6" stroke="#444" stroke-width="1.2" fill="none"/>
<line x1="174.7" y1="371.6" x2="174.7" y2="423.4" stroke="#666" stroke-width="1"/>
<rect x="154" y="371.6" width="16.7" height="12" stroke="#444" stroke-width="1.2" fill="none"/>
<rect x="156.1" y="383.6" width="11.4" height="10.2" stroke="#444" stroke-width="1.2" fill="none"/>
<path d="M123.3,371.6 L126.3,391 Q127.8,397.5 130.6,399.3 Q132,399.5 133.5,397.5 L136.5,392.5 Q136.6,391.2 135.8,390 L134.2,387 L135.6,371.6" stroke="#444" stroke-width="1.2" fill="none"/>
<text x="155.5" y="289.5" font-size="13" font-weight="bold" font-style="italic" fill="#d0d0d0" stroke="#3a3a3a" stroke-width="0.9" text-anchor="middle" textLength="46.5" lengthAdjust="spacingAndGlyphs" letter-spacing="1">SUPU</text>
<text x="155.4" y="301.9" font-size="10.6" fill="#2a2a2a" textLength="35.2" lengthAdjust="spacingAndGlyphs" text-anchor="middle" font-weight="bold" stroke="#555" stroke-width="0.45">MC-RE</text>
<text x="155.2" y="313.7" font-size="10.6" fill="#2a2a2a" textLength="13.9" lengthAdjust="spacingAndGlyphs" text-anchor="middle" font-weight="bold" font-style="italic" stroke="#555" stroke-width="0.35">7.5</text>
</svg>
</body></html>
